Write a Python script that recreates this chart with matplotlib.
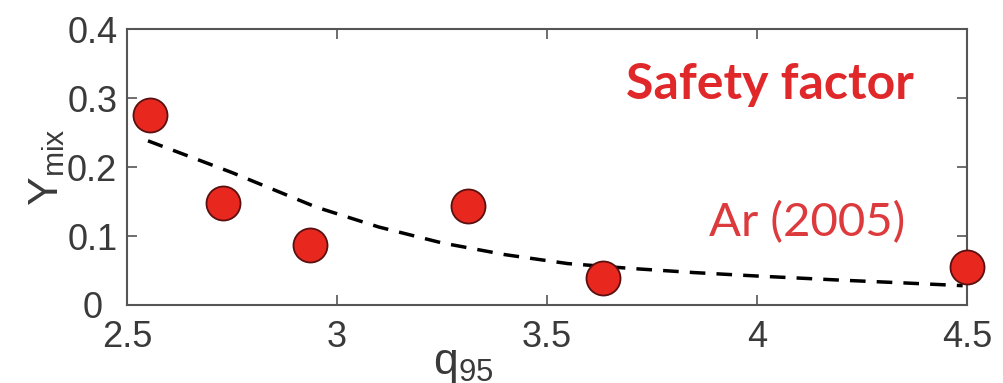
import matplotlib
matplotlib.use("Agg")
import matplotlib.pyplot as plt
from matplotlib.transforms import ScaledTranslation

plt.rcParams['font.family'] = ['Liberation Sans', 'DejaVu Sans']
plt.rcParams['mathtext.fontset'] = 'custom'
plt.rcParams['mathtext.rm'] = 'Liberation Sans'
plt.rcParams['mathtext.it'] = 'Liberation Sans'

# measured points
q95 = [2.555, 2.729, 2.936, 3.312, 3.633, 4.5]
ymix = [0.275, 0.148, 0.087, 0.143, 0.039, 0.055]

# Ar (2005) dashed curve
fit_q = [2.55, 2.75, 2.95, 3.1, 3.25, 3.4, 3.55, 3.7, 3.85, 4.0, 4.2, 4.35, 4.49]
fit_y = [0.238, 0.192, 0.142, 0.113, 0.090, 0.073, 0.060, 0.053, 0.047, 0.042, 0.036, 0.032, 0.028]

xticks = [2.5, 3, 3.5, 4, 4.5]
xticklabels = ['2.5', '3', '3.5', '4', '4.5']
yticks = [0, 0.1, 0.2, 0.3, 0.4]
yticklabels = ['0', '0.1', '0.2', '0.3', '0.4']

fig = plt.figure(figsize=(10.04, 3.83), dpi=100)
ax = fig.add_axes([0.1265, 0.2037, 0.8365, 0.7203])

ax.plot(fit_q, fit_y, color='black', lw=2.5, ls=(0, (4.5, 3.2)), zorder=2)
ax.plot(q95, ymix, 'o', ms=24.5, mfc='#e8281e', mec='#5a1010', mew=1.3,
        clip_on=False, zorder=3)

ax.set_xlim(2.5, 4.5)
ax.set_ylim(0, 0.4)
ax.set_xticks(xticks)
ax.set_xticklabels(xticklabels)
ax.set_yticks(yticks)
ax.set_yticklabels(yticklabels)

for s in ax.spines.values():
    s.set_color('#555555')
    s.set_linewidth(1.5)
ax.tick_params(direction='in', length=7, width=1.2, color='#555555',
               labelsize=26, labelcolor='#3a3a3a', top=True, right=True)
ax.tick_params(axis='x', pad=11)
ax.tick_params(axis='y', pad=7)

# the "0" sits left of the others so it clears "2.5"
lab0 = ax.get_yticklabels()[0]
lab0.set_transform(lab0.get_transform() + ScaledTranslation(-0.15, 0, fig.dpi_scale_trans))

ax.text(0.40, -0.14, r'$\mathregular{q_{95}}$', transform=ax.transAxes,
        fontsize=32, color='#3a3a3a', ha='center', va='top')
ax.set_ylabel(r'$\mathregular{Y_{mix}}$', fontsize=31, color='#3a3a3a', labelpad=0)

ax.text(0.765, 0.80, 'Safety factor', transform=ax.transAxes, fontsize=36,
        fontweight='bold', color='#e0282a', ha='center', va='center',
        family=['Lato', 'DejaVu Sans'])
ax.text(0.81, 0.30, 'Ar (2005)', transform=ax.transAxes, fontsize=34,
        color='#dc3a3c', ha='center', va='center', family=['Lato', 'DejaVu Sans'])

fig.savefig('out.png', dpi=100)
